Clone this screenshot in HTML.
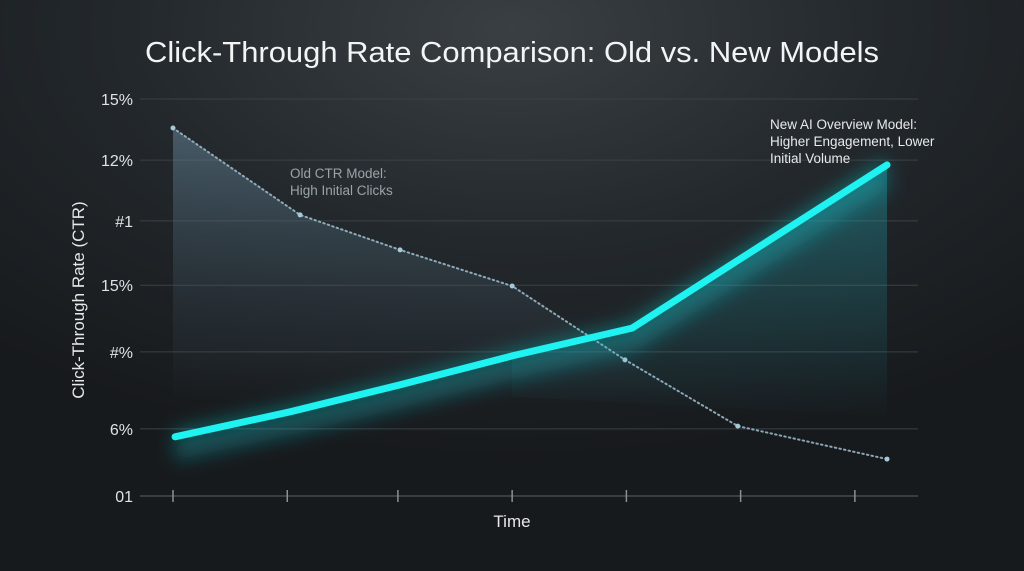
<!DOCTYPE html>
<html><head><meta charset="utf-8">
<style>
html,body{margin:0;padding:0;width:1024px;height:571px;overflow:hidden;background:#1b1f23;}
svg{display:block;font-family:"Liberation Sans",sans-serif;}
</style></head>
<body>
<svg id="chart" width="1024" height="571">
<defs>
<radialGradient id="bg" cx="50%" cy="5%" r="75%">
<stop offset="0" stop-color="#3a3f44"/><stop offset="0.5" stop-color="#23282c"/><stop offset="1" stop-color="#171a1d"/>
</radialGradient>
<linearGradient id="oldFill" gradientUnits="userSpaceOnUse" x1="0" y1="120" x2="0" y2="400">
<stop offset="0" stop-color="#6f93a8" stop-opacity="0.5"/><stop offset="0.6" stop-color="#4a6474" stop-opacity="0.22"/><stop offset="1" stop-color="#4a6474" stop-opacity="0"/>
</linearGradient>
<linearGradient id="newFill" gradientUnits="userSpaceOnUse" x1="0" y1="170" x2="0" y2="420">
<stop offset="0" stop-color="#1fb6c4" stop-opacity="0.35"/><stop offset="1" stop-color="#1fb6c4" stop-opacity="0"/>
</linearGradient>
<filter id="glow" x="-20%" y="-50%" width="140%" height="200%"><feGaussianBlur stdDeviation="9"/></filter>
</defs>
<rect width="1024" height="571" fill="url(#bg)"/>
<text x="512" y="62" text-anchor="middle" font-size="29" fill="#f2f4f5" textLength="734" lengthAdjust="spacingAndGlyphs">Click-Through Rate Comparison: Old vs. New Models</text>
<g id="grid"></g>
<g id="marks"></g>
<text x="512" y="527" text-anchor="middle" font-size="17" fill="#e6e8ea">Time</text>
<text transform="translate(84,300) rotate(-90)" text-anchor="middle" font-size="17" fill="#e6e8ea">Click-Through Rate (CTR)</text>
<text x="290" y="178" font-size="13.5" fill="#9aa3aa"><tspan x="290">Old CTR Model:</tspan><tspan x="290" dy="17">High Initial Clicks</tspan></text>
<text x="770" y="129" font-size="13.5" fill="#e8eaec"><tspan x="770">New AI Overview Model:</tspan><tspan x="770" dy="17">Higher Engagement, Lower</tspan><tspan x="770" dy="17">Initial Volume</tspan></text>
</svg>
<script>
const tickValues = [100, 84.6, 69.3, 53.1, 36.3, 16.9, 0];
const tickLabels = ["15%", "12%", "#1", "15%", "#%", "6%", "01"];
const xTicks = [0, 16, 31.5, 47.5, 63.5, 79.5, 95.5];
const oldX = [0, 17.8, 31.8, 47.5, 63.3, 79.1, 100];
const oldY = [92.7, 70.8, 62.0, 52.9, 34.3, 17.6, 9.3];
const newX = [0.3, 16.4, 31.8, 47.5, 64.3, 100];
const newY = [14.9, 21.2, 28.0, 35.3, 42.3, 83.4];

const NS = "http://www.w3.org/2000/svg";
const xs = t => 173 + t * 7.14;
const ys = v => 496 - v * 3.97;
function mk(tag, attrs, parent){const e=document.createElementNS(NS,tag);for(const k in attrs)e.setAttribute(k,attrs[k]);parent.appendChild(e);return e;}
const grid = document.getElementById('grid'), marks = document.getElementById('marks');
tickValues.forEach((v,i)=>{
  const l = mk('line',{x1:140,x2:918,y1:ys(v),y2:ys(v),stroke:i===tickValues.length-1?'#5d6368':'#3a4045','stroke-width':1},grid);
  
  
  const t = mk('text',{x:133,y:ys(v)+6,'text-anchor':'end','font-size':16,fill:'#e0e3e5'},grid);
  t.textContent = tickLabels[i];
  
  
});
xTicks.forEach(t=>{
  const l = mk('line',{x1:xs(t),x2:xs(t),y1:490,y2:502,stroke:'#8a9095','stroke-width':1.5},grid);
  
  
});
const oldPts = oldX.map((x,i)=>[xs(x),ys(oldY[i])]);
const newPts = newX.map((x,i)=>[xs(x),ys(newY[i])]);
const pstr = p => p.map(q=>q[0].toFixed(1)+','+q[1].toFixed(1)).join(' ');
const of = mk('polygon',{points:pstr(oldPts)+' '+oldPts[oldPts.length-1][0]+',496 '+oldPts[0][0]+',496',fill:'url(#oldFill)'},marks);


const nf = mk('polygon',{points:pstr(newPts.slice(3))+' '+newPts[newPts.length-1][0]+','+ys(20)+' '+newPts[3][0]+','+ys(25),fill:'url(#newFill)'},marks);


const ol = mk('polyline',{points:pstr(oldPts),fill:'none',stroke:'#9fc0d0','stroke-width':2,'stroke-dasharray':'1.5 3.2','stroke-linecap':'round','stroke-opacity':0.85},marks);


oldPts.forEach(p=>{
  const c = mk('circle',{cx:p[0],cy:p[1],r:2.5,fill:'#a8c8d6'},marks);
  
  
});
const g1 = mk('polyline',{points:pstr(newPts.map(p=>[p[0],p[1]+16])),fill:'none',stroke:'#14a8b4','stroke-width':16,'stroke-opacity':0.4,filter:'url(#glow)'},marks);


const g2 = mk('polyline',{points:pstr(newPts),fill:'none',stroke:'#19f0f0','stroke-width':12,'stroke-opacity':0.35,filter:'url(#glow)'},marks);


const nl = mk('polyline',{points:pstr(newPts),fill:'none',stroke:'#1ff3f1','stroke-width':7,'stroke-linecap':'round','stroke-linejoin':'round'},marks);


</script>
</body></html>
